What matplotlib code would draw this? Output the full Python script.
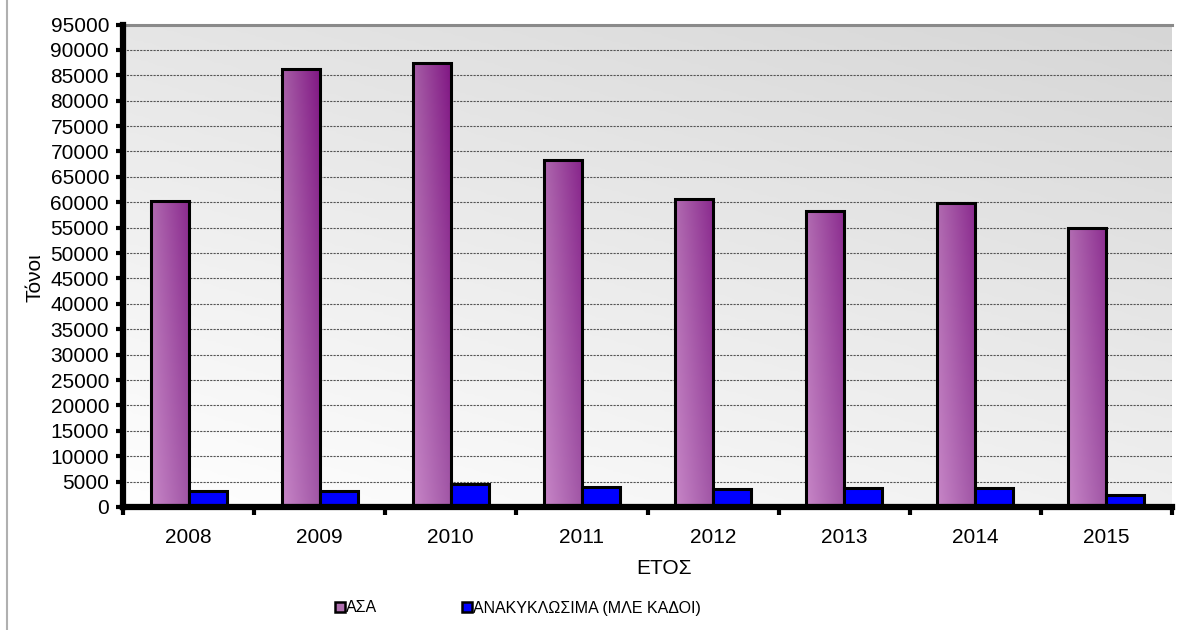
import numpy as np
import matplotlib
matplotlib.use("Agg")
import matplotlib.pyplot as plt
from matplotlib.patches import Rectangle
from matplotlib.colors import LinearSegmentedColormap
from matplotlib.lines import Line2D

plt.rcParams['font.family'] = ['Liberation Sans', 'DejaVu Sans']

years = ['2008', '2009', '2010', '2011', '2012', '2013', '2014', '2015']
asa = [60200, 86300, 87500, 68400, 60600, 58300, 59900, 54900]
recycl = [3100, 3200, 4450, 3880, 3540, 3800, 3800, 2420]
series_names = ['ΑΣΑ', 'ΑΝΑΚΥΚΛΩΣΙΜΑ (ΜΛΕ ΚΑΔΟΙ)']
y_ticks = list(range(0, 95001, 5000))
x_label = 'ΕΤΟΣ'
y_label = 'Τόνοι'

FS = 15

fig = plt.figure(figsize=(11.83, 6.30), dpi=100)
ax = fig.add_axes([123/1183, 1-507/630, (1172-123)/1183, (507-24.5)/630])

ymax = 95000
n = len(years)

# background gradient (white top-left -> gray bottom-right)
gx, gy = np.meshgrid(np.linspace(0, 1, 200), np.linspace(0, 1, 200))
t = (gx * 0.45 + gy * 0.75) / 1.2
bgcmap = LinearSegmentedColormap.from_list('bg', ['#ffffff', '#d6d6d6'])
ax.imshow(t, cmap=bgcmap, extent=[0, n, ymax, 0], aspect='auto', zorder=0,
          interpolation='bilinear', vmin=0, vmax=1)

for v in y_ticks[1:-1]:
    ax.axhline(v, color='#555555', lw=0.8, ls=(0, (2, 1)), zorder=1)

bw = 0.29
x = np.arange(n) + 0.5

def c(h):
    h = h.lstrip('#')
    return np.array([int(h[i:i+2], 16) / 255 for i in (0, 2, 4)])

tl, tr, bl, br = c('#a45ca4'), c('#7d1080'), c('#c786c7'), c('#a055a5')

for i in range(n):
    x0 = x[i] - bw
    h = asa[i]
    frac = h / ymax
    u = np.linspace(0, 1, 60)[None, :, None]
    vv = np.linspace(1 - frac, 1, 60)[:, None, None]
    img = (tl * (1 - u) + tr * u) * (1 - vv) + (bl * (1 - u) + br * u) * vv
    ax.imshow(img, extent=[x0, x0 + bw, 0, h], aspect='auto', zorder=2,
              interpolation='bilinear')
    ax.add_patch(Rectangle((x0, 0), bw, h, facecolor='none', edgecolor='black',
                           lw=2.2, zorder=3))
    ax.add_patch(Rectangle((x[i], 0), bw, recycl[i], facecolor='#0000ff',
                           edgecolor='black', lw=2.2, zorder=3))

ax.set_xlim(0, n)
ax.set_ylim(0, ymax)

ax.spines['right'].set_visible(False)
ax.spines['top'].set_color('#8a8a8a')
ax.spines['top'].set_linewidth(2.2)
ax.spines['left'].set_linewidth(4.5)
ax.spines['bottom'].set_linewidth(4.5)
ax.spines['left'].set_zorder(5)
ax.spines['bottom'].set_zorder(5)

ax.set_yticks(y_ticks)
ax.set_yticklabels([str(v) for v in y_ticks], fontsize=FS)
ax.tick_params(axis='y', direction='out', length=5, width=3, pad=5)

ax.set_xticks(np.arange(0, n + 1))
ax.set_xticklabels([])
ax.set_xticks(x, minor=True)
ax.set_xticklabels(years, minor=True, fontsize=FS)
ax.tick_params(axis='x', which='major', direction='out', length=6, width=3)
ax.tick_params(axis='x', which='minor', length=0, pad=15)

fig.text(664/1183, 1 - 568/630, x_label, fontsize=FS, ha='center', va='center')
fig.text(35/1183, 1 - 278/630, y_label, rotation=90, fontsize=FS,
         ha='center', va='center')

# legend
handles = [Rectangle((0, 0), 1, 1, facecolor='#b070b0', edgecolor='black', lw=1.8),
           Rectangle((0, 0), 1, 1, facecolor='#0000ff', edgecolor='black', lw=1.8)]
leg = fig.legend(handles, series_names, loc='center left', ncol=2,
                 bbox_to_anchor=(335/1183, 1 - 608/630), frameon=False,
                 prop=dict(family='Liberation Sans', size=11.5),
                 handlelength=0.6, handleheight=0.6,
                 handletextpad=0.1, borderpad=0, borderaxespad=0,
                 columnspacing=5.3)

fig.add_artist(Line2D([7/1183, 7/1183], [0, 1], color='#b0b0b0', lw=1.5,
                      transform=fig.transFigure))

fig.savefig('out.png', dpi=100)
